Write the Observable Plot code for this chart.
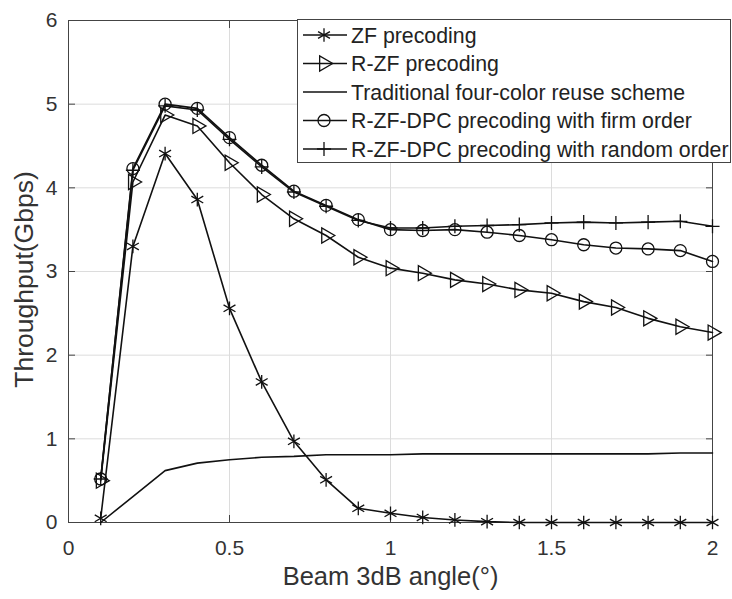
<!DOCTYPE html>
<html><head><meta charset="utf-8">
<script src="https://cdn.jsdelivr.net/npm/d3@7"></script>
<script src="https://cdn.jsdelivr.net/npm/@observablehq/plot@0.6"></script>
<style>
body{margin:0;background:#fff;}
#wrap{position:relative;width:732px;height:599px;font-family:"Liberation Sans",Arial,Helvetica,sans-serif;}
#legend{position:absolute;left:297px;top:19px;}
</style></head><body><div id="wrap"></div>
<script>
const angles = [0.1,0.2,0.3,0.4,0.5,0.6,0.7,0.8,0.9,1.0,1.1,1.2,1.3,1.4,1.5,1.6,1.7,1.8,1.9,2.0];
const zfPrecoding = [0.05,3.30,4.41,3.86,2.56,1.68,0.97,0.51,0.17,0.11,0.06,0.03,0.01,0.0,0.0,0.0,0.0,0.0,0.0,0.0];
const rzfPrecoding = [0.50,4.07,4.87,4.74,4.30,3.92,3.63,3.43,3.17,3.04,2.98,2.90,2.85,2.78,2.74,2.64,2.57,2.44,2.34,2.27];
const traditional = [0.0,0.31,0.62,0.71,0.75,0.78,0.79,0.81,0.81,0.81,0.82,0.82,0.82,0.82,0.82,0.82,0.82,0.82,0.83,0.83];
const dpcFirm = [0.52,4.23,5.00,4.95,4.60,4.27,3.96,3.79,3.62,3.50,3.49,3.50,3.47,3.43,3.38,3.32,3.28,3.27,3.25,3.12];
const dpcRandom = [0.52,4.21,4.98,4.93,4.58,4.25,3.95,3.78,3.61,3.52,3.52,3.54,3.55,3.56,3.58,3.59,3.58,3.59,3.60,3.54];
const seriesNames = ["ZF precoding","R-ZF precoding","Traditional four-color reuse scheme","R-ZF-DPC precoding with firm order","R-ZF-DPC precoding with random order"];
const xTicks = [0,0.5,1,1.5,2];
const xTickLabels = ["0","0.5","1","1.5","2"];
const yTicks = [0,1,2,3,4,5,6];
const yTickLabels = ["0","1","2","3","4","5","6"];
const xLabel = "Beam 3dB angle(°)";
const yLabel = "Throughput(Gbps)";

const seriesValues = [zfPrecoding, rzfPrecoding, traditional, dpcFirm, dpcRandom];
const markers = [
  {symbol:"asterisk", r:6.5, rotate:0},
  {symbol:"triangle", r:5.6, rotate:90},
  null,
  {symbol:"circle", r:6, rotate:0},
  {symbol:"plus", r:4.6, rotate:0}
];
const rows = seriesNames.flatMap((name, s) => seriesValues[s].map((v, i) => ({name, s, x: angles[i], y: v})));
const ink = "#111";
const fontFam = '"Liberation Sans",Arial,Helvetica,sans-serif';

const marks = [
  Plot.gridX(xTicks, {stroke:"#dcdcdc", strokeOpacity:1}),
  Plot.gridY(yTicks, {stroke:"#dcdcdc", strokeOpacity:1}),
  Plot.axisX(xTicks, {tickSize:-7, tickPadding:25, label:null, fontSize:21, stroke:"#444", tickFormat:d => xTickLabels[xTicks.indexOf(d)]}),
  Plot.axisX(xTicks, {anchor:"top", tickSize:-7, tickFormat:() => "", label:null, stroke:"#444"}),
  Plot.axisY(yTicks, {tickSize:-7, tickPadding:18, label:null, fontSize:21, stroke:"#444", tickFormat:d => yTickLabels[yTicks.indexOf(d)]}),
  Plot.axisY(yTicks, {anchor:"right", tickSize:-7, tickFormat:() => "", label:null, stroke:"#444"}),
  Plot.frame({stroke:"#444"}),
  Plot.line(rows, {x:"x", y:"y", z:"name", stroke:ink, strokeWidth:1.6})
];
markers.forEach((m, s) => {
  if (!m) return;
  marks.push(Plot.dot(rows.filter(d => d.s === s), {x:"x", y:"y", symbol:() => m.symbol, r:m.r, rotate:m.rotate, stroke:ink, fill:"none", strokeWidth:1.3}));
});
marks.push(Plot.text([xLabel], {text:d => d, frameAnchor:"bottom", lineAnchor:"middle", textAnchor:"middle", dy:54, fontSize:25.5, fill:"#333"}));
marks.push(Plot.text([yLabel], {text:d => d, frameAnchor:"left", lineAnchor:"middle", textAnchor:"middle", dx:-44, dy:8, rotate:-90, fontSize:26.5, fill:"#333"}));

const chart = Plot.plot({
  width:732, height:599,
  marginLeft:68, marginRight:20, marginTop:20, marginBottom:77,
  x:{domain:[0,2]}, y:{domain:[0,6]},
  style:{fontFamily:fontFam, fontSize:"21px", color:"#333", background:"white", overflow:"visible"},
  marks
});
const wrap = document.getElementById("wrap");
wrap.appendChild(chart);

// legend overlay
const lw = 434, lh = 143, rowH = 28.5;
const leg = d3.select(wrap).append("svg").attr("id","legend").attr("width", lw+1).attr("height", lh+1);
leg.append("rect").attr("x",0.5).attr("y",0.5).attr("width",lw-1).attr("height",lh).attr("fill","white").attr("stroke","#444");
const symMap = {asterisk:d3.symbolAsterisk, triangle:d3.symbolTriangle, circle:d3.symbolCircle, plus:d3.symbolPlus};
seriesNames.forEach((name, s) => {
  const cy = 16 + s*rowH;
  const g = leg.append("g");
  g.append("line").attr("x1",6).attr("x2",50).attr("y1",cy).attr("y2",cy).attr("stroke",ink).attr("stroke-width",1.6);
  const m = markers[s];
  if (m) {
    g.append("path").attr("d", d3.symbol(symMap[m.symbol], Math.PI*m.r*m.r)())
      .attr("transform", `translate(27,${cy}) rotate(${m.rotate})`)
      .attr("fill", "none").attr("stroke", ink).attr("stroke-width",1.3);
  }
  g.append("text").attr("x",54).attr("y",cy+7.5).attr("font-size",21.3).attr("fill","#222")
    .attr("font-family",fontFam).text(name);
});
</script></body></html>
